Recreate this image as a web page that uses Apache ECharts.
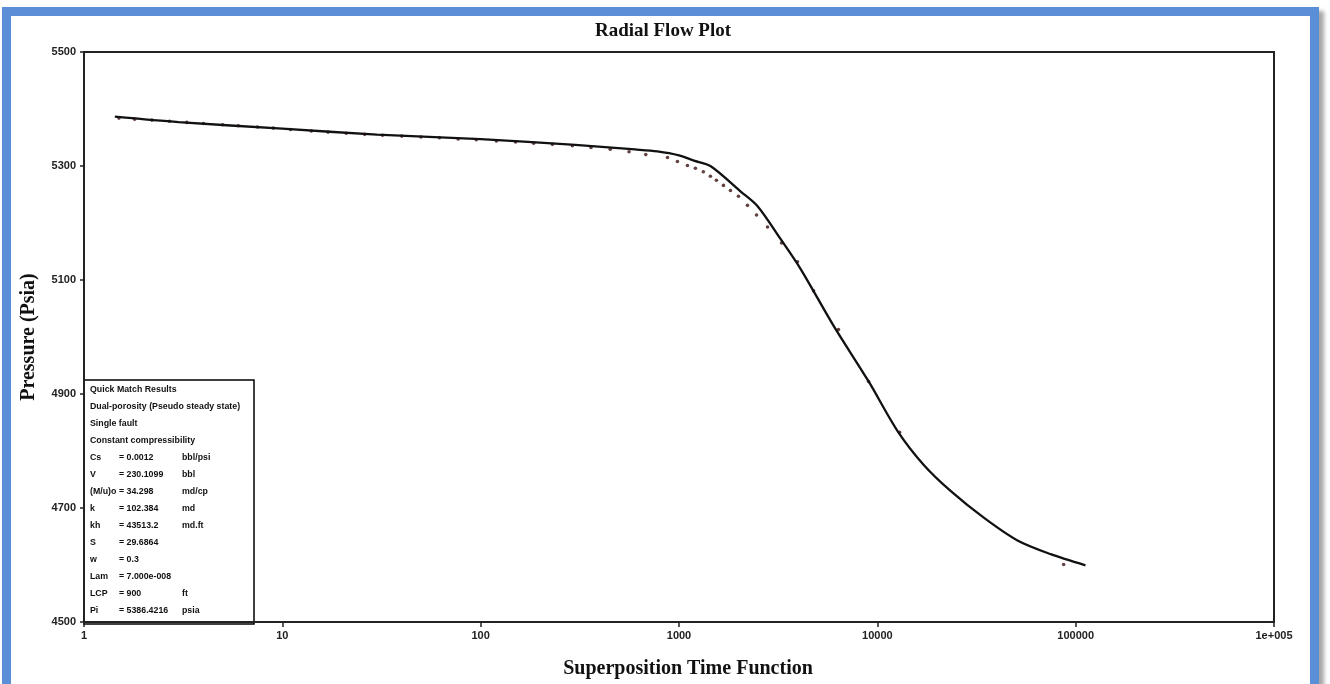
<!DOCTYPE html>
<html>
<head>
<meta charset="utf-8">
<script src="https://cdn.jsdelivr.net/npm/echarts@6/dist/echarts.min.js"></script>
<style>
html,body{margin:0;padding:0;background:#fff;width:1330px;height:684px;overflow:hidden;}
#chart{position:absolute;left:0;top:0;width:1330px;height:684px;}
#frame{position:absolute;left:2px;top:7px;width:1299px;height:690px;border:9px solid #5a8ed6;box-shadow:5px 4px 4px rgba(0,0,0,0.35);pointer-events:none;z-index:5;}
</style>
</head>
<body>
<div id="chart"></div>
<div id="frame"></div>
<script>
// ---- data ----
const modelT = [1.43, 3, 10, 30, 100, 300, 600, 778, 1000, 1200, 1440, 2040, 2490, 3250, 4100, 6010, 9040, 12650, 17100, 23400, 34400, 50900, 74800, 112000];
const modelP = [5386.5, 5377, 5365.5, 5355, 5347, 5337, 5329, 5325.5, 5318.5, 5309, 5300, 5255.7, 5229.5, 5172, 5119.6, 5020, 4922, 4835, 4776, 4730, 4683, 4643, 4619, 4599.5];

const dataT = [1.5, 1.8, 2.2, 2.7, 3.3, 4, 5, 6, 7.5, 9, 11, 14, 17, 21, 26, 32, 40, 50, 62, 77, 95, 120, 150, 185, 230, 290, 360, 450, 560, 680,
  875, 982, 1103, 1210, 1327, 1440, 1544, 1676, 1817, 1994, 2214, 2460, 2795, 3290, 3958, 4770, 6370, 9030, 12940, 87000];
const dataP = [5384, 5382, 5380.5, 5378.5, 5376.5, 5374.5, 5372.5, 5370.5, 5368.5, 5366.5, 5364, 5361.5, 5359.5, 5357.5, 5355.5, 5354, 5352.5, 5351, 5349.5, 5347.5, 5346, 5344, 5342, 5340, 5338, 5335.5, 5332.5, 5329.5, 5325, 5320,
  5315, 5308, 5301, 5296, 5290, 5282, 5275, 5266, 5257, 5247, 5231, 5214, 5193, 5165, 5132, 5081, 5013, 4922, 4833, 4601];

const yTicks = [4500, 4700, 4900, 5100, 5300, 5500];
const xTickLabels = {1: '1', 10: '10', 100: '100', 1000: '1000', 10000: '10000', 100000: '100000', 1000000: '1e+005'};

const resultLines = [
  ['Quick Match Results', '', ''],
  ['Dual-porosity (Pseudo steady state)', '', ''],
  ['Single fault', '', ''],
  ['Constant compressibility', '', ''],
  ['Cs', '= 0.0012', 'bbl/psi'],
  ['V', '= 230.1099', 'bbl'],
  ['(M/u)o', '= 34.298', 'md/cp'],
  ['k', '= 102.384', 'md'],
  ['kh', '= 43513.2', 'md.ft'],
  ['S', '= 29.6864', ''],
  ['w', '= 0.3', ''],
  ['Lam', '= 7.000e-008', ''],
  ['LCP', '= 900', 'ft'],
  ['Pi', '= 5386.4216', 'psia']
];

// ---- chart ----
const chart = echarts.init(document.getElementById('chart'), null, {renderer: 'canvas'});

const tickFont = {fontFamily: 'Liberation Sans, Arial, sans-serif', fontSize: 11, fontWeight: 'bold', color: '#222'};
const serifBold = 'Liberation Serif, Times New Roman, serif';

const graphics = [
  {type: 'text', x: 663, y: 31, z: 10,
   style: {text: 'Radial Flow Plot', font: 'bold 19px "Liberation Serif", "Times New Roman", serif', fill: '#111', align: 'center', verticalAlign: 'middle'}}
];

const boxX = 84, boxY = 380, boxW = 170, boxH = 244;
const boxChildren = [
  {type: 'rect', shape: {x: 0, y: 0, width: boxW, height: boxH}, style: {fill: '#fff', stroke: '#000', lineWidth: 1.5}}
];
resultLines.forEach((r, i) => {
  const y = 10 + i * 16.95;
  const font = 'bold 8.8px "Liberation Sans", Arial, sans-serif';
  boxChildren.push({type: 'text', style: {text: r[0], x: 6, y: y, font: font, fill: '#111', verticalAlign: 'middle'}});
  if (r[1]) boxChildren.push({type: 'text', style: {text: r[1], x: 35, y: y, font: font, fill: '#111', verticalAlign: 'middle'}});
  if (r[2]) boxChildren.push({type: 'text', style: {text: r[2], x: 98, y: y, font: font, fill: '#111', verticalAlign: 'middle'}});
});

const option = {
  animation: false,
  backgroundColor: 'transparent',
  grid: {left: 84, right: 56, top: 52, bottom: 59, show: true, borderColor: '#222', borderWidth: 2, backgroundColor: '#fff'},
  xAxis: {
    type: 'log', logBase: 10, min: 1, max: 1000000,
    name: 'Superposition Time Function', nameLocation: 'middle', nameGap: 37,
    nameTextStyle: {fontFamily: serifBold, fontSize: 20, fontWeight: 'bold', color: '#111', padding: [0, 0, 0, 18]},
    axisLine: {show: true, onZero: false, lineStyle: {color: '#222', width: 2}},
    axisTick: {show: true, length: 5, lineStyle: {color: '#222', width: 1.5}},
    minorTick: {show: false},
    splitLine: {show: false},
    axisLabel: Object.assign({margin: 8, formatter: v => xTickLabels[Math.round(v)] || ''}, tickFont)
  },
  yAxis: {
    type: 'value', min: 4500, max: 5500, interval: 200,
    name: 'Pressure (Psia)', nameLocation: 'middle', nameGap: 45,
    nameTextStyle: {fontFamily: serifBold, fontSize: 20, fontWeight: 'bold', color: '#111'},
    axisLine: {show: true, lineStyle: {color: '#222', width: 2}},
    axisTick: {show: true, length: 4, lineStyle: {color: '#222', width: 1.5}},
    splitLine: {show: false},
    axisLabel: Object.assign({margin: 8, formatter: v => yTicks.includes(v) ? String(v) : ''}, tickFont)
  },
  series: [
    {
      type: 'scatter', name: 'Data', z: 2,
      symbol: 'circle', symbolSize: 3.6,
      itemStyle: {color: '#3d1212'},
      data: dataT.map((t, i) => [t, dataP[i]])
    },
    {
      type: 'line', name: 'Model', z: 3,
      showSymbol: false, smooth: 0.3,
      lineStyle: {color: '#111', width: 2.3},
      data: modelT.map((t, i) => [t, modelP[i]])
    }
  ],
  graphic: graphics.concat([{type: 'group', x: boxX, y: boxY, z: 20, children: boxChildren}])
};
chart.setOption(option);
</script>
</body>
</html>
